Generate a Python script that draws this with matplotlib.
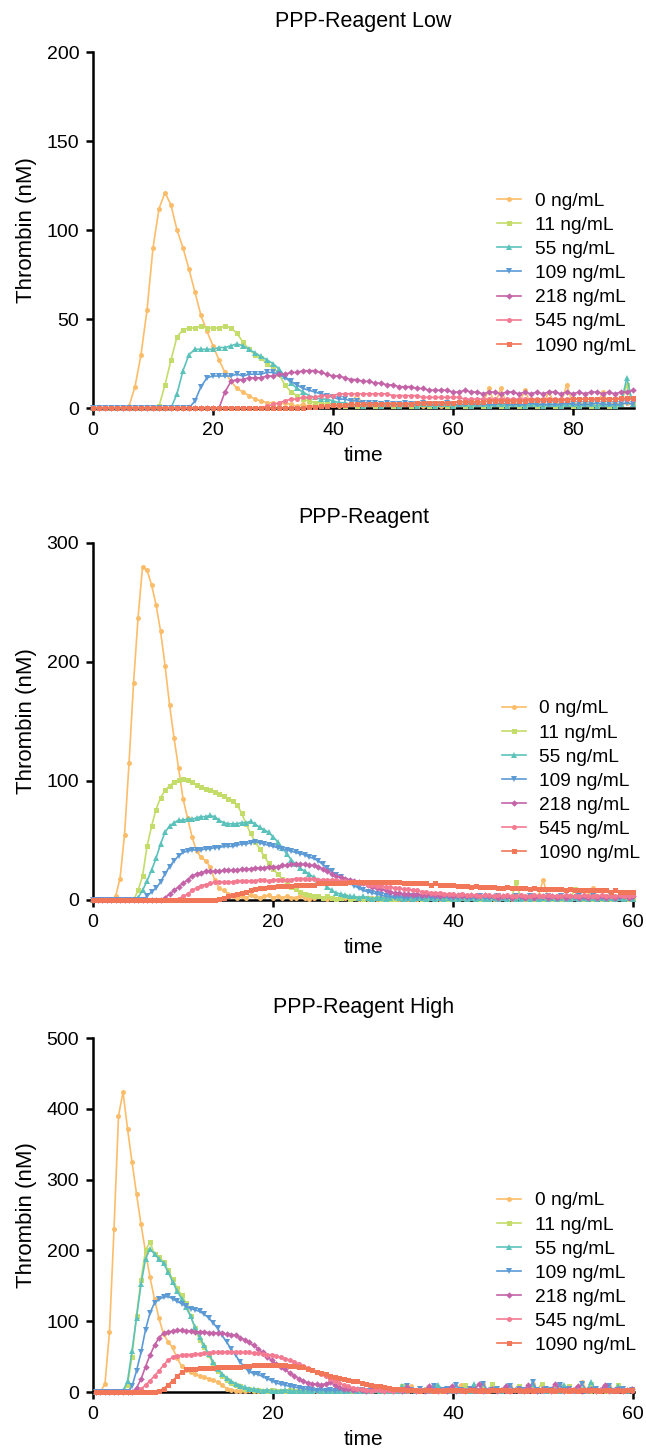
import numpy as np
import matplotlib.pyplot as plt

plt.rcParams['font.family'] = ['Liberation Sans', 'DejaVu Sans']

# Legend labels, colours and markers shared by all panels
labels = ['0 ng/mL', '11 ng/mL', '55 ng/mL', '109 ng/mL', '218 ng/mL', '545 ng/mL', '1090 ng/mL']
colors = ['#FBBD6A', '#C3DC6A', '#5BC2BB', '#5C9AD6', '#C463A8', '#F47A92', '#F27658']
markers = ['o', 's', '^', 'v', 'D', 'o', 's']
msizes = [3.6, 3.6, 4.0, 4.0, 3.3, 3.6, 3.6]

# ---- PPP-Reagent Low: one value per minute, t = 0..90
low_0 = [0]*6 + [1, 12, 30, 55, 90, 112, 121, 114, 100, 90, 78, 65, 52, 43, 35, 27, 20, 15, 11, 9, 7, 5, 4, 3, 3] + \
    [2, 3, 2, 1, 2, 1, 2, 1, 1, 2, 1, 1, 2, 8, 1, 2, 1, 1, 2, 1, 1, 2, 1, 2, 1, 1, 2, 1, 2, 1,
     2, 1, 2, 3, 2, 11, 2, 11, 2, 3, 2, 10, 2, 3, 2, 9, 2, 3, 13, 2, 3, 2, 3, 2, 9, 2, 3, 2, 3, 2]
low_11 = [0]*11 + [1, 13, 27, 40, 44, 45, 45, 46, 45, 45, 45, 46, 45, 42, 37, 33, 30, 28, 25, 23, 19, 13, 9, 7, 5, 4, 3, 3, 2, 2] + \
    [2, 1, 2, 1, 1, 2, 1, 1, 2, 1, 1, 2, 1, 1, 2, 1, 1, 2, 1, 1, 2, 1, 1, 2, 1,
     1, 2, 1, 1, 2, 1, 1, 2, 1, 1, 2, 1, 1, 2, 1, 1, 2, 1, 1, 2, 1, 1, 2, 13, 2]
low_55 = [0]*14 + [8, 21, 30, 33, 33, 33, 33, 34, 34, 35, 36, 35, 33, 31, 29, 27, 25, 22, 18, 14, 11, 9, 7, 6, 5, 5, 4, 3, 3] + \
    [2, 2, 1, 2, 2, 1, 2, 2, 1, 2, 2, 1, 2, 2, 1, 2, 2, 1, 2, 2, 1, 2, 2, 1,
     2, 2, 1, 2, 2, 1, 2, 2, 1, 2, 2, 1, 2, 2, 1, 2, 2, 1, 2, 2, 1, 2, 17, 2]
low_109 = [0]*17 + [4, 12, 17, 18, 18, 18, 18, 19, 18, 19, 19, 19, 20, 20, 19, 17, 15, 13, 11, 10, 9, 8, 7, 6, 5, 5, 4, 4, 3] + \
    [3, 3, 2, 3, 2, 2, 3, 2, 2, 3, 2, 2, 2, 3, 2, 2, 2, 3, 2, 2, 2, 2, 3,
     2, 2, 2, 2, 3, 2, 2, 2, 2, 2, 3, 2, 2, 2, 2, 3, 2, 2, 2, 2, 3, 2]
low_218 = [0]*22 + [9, 15, 16, 16, 17, 17, 17, 18, 18, 19, 19, 20, 20, 21, 21, 21, 20, 19, 18, 18,
                    17, 16, 16, 15, 15, 14, 14, 13, 13, 12, 12, 12, 11, 11, 10, 10, 10, 10, 9] + \
    [9, 10, 9, 9, 8, 9, 9, 8, 9, 9, 8, 9, 8, 9, 8, 9, 9, 8, 9, 8, 9, 8, 9, 9, 8, 9, 8, 9, 9, 10]
low_545 = [0]*29 + [1, 2, 3, 4, 5, 5, 6, 6, 6, 7, 7, 7, 8, 8, 8, 8, 8, 8, 8, 8, 8, 7] + \
    [7, 7, 7, 7, 6, 6, 6, 6, 6, 6, 6, 5, 5, 5, 5, 5, 5, 5, 5, 5] + [5]*20
low_1090 = [0]*36 + [0.5, 0.5, 1, 1, 1.5, 1.5, 1.5, 2, 2, 2, 2, 2, 2.5, 2.5, 2.5, 2.5, 2.5, 2.5, 3, 3,
                     3, 3, 3, 3, 3, 3.5, 3.5, 3.5, 3.5, 3.5, 4, 4, 4, 4, 4, 4, 4, 4.5, 4.5, 4.5,
                     4.5, 4.5, 4.5, 4.5, 5, 5, 5, 5, 5, 5, 5, 5, 5.5, 5.5, 5.5]

# ---- PPP-Reagent: one value per half minute, t = 0..60
mid_0 = [0]*5 + [3, 18, 55, 115, 182, 237, 280, 277, 265, 248, 226, 197, 164, 136, 111, 85, 69, 53, 41, 36,
                 33, 28, 17, 10, 8, 5, 3, 2] + \
    [3, 2, 4, 3, 2, 3, 4, 2, 3, 2, 3, 2, 2, 3, 2, 1, 2, 3, 2, 1, 2, 1, 2, 2, 1, 2, 1, 2, 1, 2,
     1, 2, 1, 1, 2, 1, 2, 1, 2, 1, 2, 1, 2, 3, 1, 2, 1, 2, 1, 2, 1, 2, 3, 2, 1, 2, 1, 2, 3, 2,
     1, 2, 3, 2, 3, 2, 4, 17, 3, 2, 3, 2, 1, 2, 3, 2, 2, 4, 10, 3, 2, 3, 2, 1, 2, 3, 2, 3]
mid_11 = [0]*10 + [8, 20, 45, 62, 76, 86, 92, 96, 99, 101, 102, 101, 99, 97, 95, 93, 92, 91, 89, 87,
                   85, 83, 80, 73, 64, 56, 49, 43, 37, 31, 26, 22, 18, 14, 11, 9, 7, 5, 4, 3, 3] + \
    [2, 3, 2, 1, 2, 3, 1, 2, 2, 1, 2, 1, 2, 1, 2, 1, 1, 2, 1, 2, 1, 2, 1, 1, 2, 1, 2, 1, 1, 2,
     1, 2, 1, 2, 1, 1, 2, 1, 2, 1, 2, 1, 2, 15, 2, 1, 2, 1, 2, 1, 2, 1, 2, 1, 2, 1, 9, 2, 1, 2,
     1, 2, 1, 2, 1, 2, 3, 2, 1, 2]
mid_55 = [0]*10 + [2, 8, 16, 25, 35, 47, 57, 62, 65, 67, 67, 68, 68, 69, 70, 70, 71, 70, 67, 65,
                   64, 64, 64, 65, 65, 66, 64, 61, 59, 57, 53, 49, 44, 39, 34, 30, 27, 24, 22, 19,
                   17, 14, 11, 8, 6, 5, 4, 3, 3] + \
    [2, 3, 2, 1, 2, 2, 1, 2, 3, 2, 1, 2, 1, 2, 2, 1, 2, 1, 2, 1, 2, 1, 1, 2, 1, 2, 1, 2, 1, 1,
     2, 1, 2, 1, 2, 1, 1, 2, 1, 2, 1, 2, 1, 2, 1, 2, 1, 1, 2, 1, 2, 1, 2, 1, 2, 1, 2, 1, 2, 1, 2, 1]
mid_109 = [0]*12 + [3, 7, 10, 15, 22, 28, 33, 37, 40, 41, 42, 42, 42, 43, 43, 44, 44, 45, 45, 45,
                    46, 47, 47, 48, 49, 48, 47, 46, 45, 44, 43, 42, 41, 40, 39, 38, 36, 35, 33, 30,
                    27, 24, 21, 19, 16, 14, 12, 10, 8, 7, 6, 5, 4, 3] + \
    [3, 2, 3, 2, 2, 3, 2, 2, 3, 2, 2, 2, 3, 2, 2, 2, 3, 2, 2, 2, 3, 2, 2, 2, 3, 2, 2, 2, 3, 2,
     2, 3, 2, 2, 2, 3, 2, 2, 3, 2, 2, 2, 3, 2, 2, 3, 2, 2, 2, 3, 2, 2, 3, 2, 2]
mid_218 = [0]*16 + [2, 5, 8, 11, 14, 17, 20, 22, 23, 24, 24, 24, 24, 25, 25, 25, 25, 26, 26, 26,
                    27, 27, 27, 28, 28, 28, 29, 29, 30, 30, 30, 30, 29, 29, 28, 26, 24, 22, 20, 19,
                    18, 17, 16, 15, 14, 13, 11, 10, 9, 8, 7, 6, 6, 5, 5] + \
    [4, 5, 4, 4, 5, 4, 3, 4, 4, 3, 4, 3, 3, 4, 3, 3, 4, 3, 3, 2, 3, 3, 2, 3, 3, 2, 3, 2, 3, 3,
     2, 3, 2, 3, 2, 3, 3, 2, 3, 2, 3, 2, 3, 2, 3, 2, 3, 3, 2, 3]
mid_545 = [0]*19 + [1, 3, 5, 8, 10, 12, 13, 14, 15, 15, 15, 15, 15, 16, 16, 16, 16, 16, 17, 17,
                    16, 17, 17, 17, 17, 17, 18, 18, 18, 18, 18, 17, 17, 17, 17, 17, 16, 16, 15, 15,
                    14, 14, 13, 13, 12, 12, 11, 11, 10, 10, 9, 9, 8, 8, 7, 7, 6, 6, 6, 5, 5, 5] + \
    [4, 5, 4, 4, 4, 3, 4, 4, 3, 4, 3, 4, 3, 3, 4, 3, 3, 4, 3, 3,
     4, 3, 3, 3, 4, 3, 3, 3, 4, 3, 3, 3, 4, 3, 3, 3, 4, 3, 3, 4]
mid_1090 = [0]*28 + [1, 2, 3, 4, 5, 6, 7, 8, 9, 10, 10, 11, 11, 12, 12, 12, 12, 13, 13, 13,
                     13, 13, 14, 14, 14, 14, 14, 14, 14, 15, 15, 15, 15, 15, 15, 15, 15, 15, 15, 15,
                     15, 14, 14] + \
    [14, 14, 14, 14, 13, 14, 13, 13, 13, 13, 12, 12, 12, 11, 12, 11, 11, 11, 11, 10,
     10, 11, 10, 10, 10, 10, 9, 10, 9, 9, 9, 9, 9, 9, 8, 9, 8, 8, 8, 8, 8, 8, 8, 8, 7, 8, 7, 7, 7, 7]

# ---- PPP-Reagent High: one value per half minute, t = 0.33..59.83
high_0 = [0]*2 + [12, 85, 230, 390, 424, 372, 325, 280, 237, 198, 162, 131, 104, 82, 71, 63, 48, 37, 31, 28,
                  25, 23, 21, 19, 17, 14, 10, 5, 3, 2, 2] + \
    [2, 3, 1, 2, 1, 2, 3, 1, 2, 1, 2, 1, 2, 1, 1, 2, 1, 2, 1, 2, 1, 2, 1, 2, 1, 3, 2, 1, 2, 3,
     2, 3, 1, 2, 4, 2, 3, 8, 2, 3, 4, 2, 9, 3, 2, 4, 3, 2, 10, 3, 2, 4, 3, 11, 2, 3, 4, 2, 3, 9,
     3, 2, 4, 3, 12, 3, 2, 4, 3, 2, 10, 3, 4, 2, 3, 14, 3, 2, 4, 3, 2, 9, 3, 4, 2, 3, 5]
high_11 = [0]*6 + [1, 10, 50, 108, 158, 200, 212, 195, 191, 184, 172, 160, 147, 137, 126, 108, 90, 74, 63, 53,
                   40, 30, 23, 17, 13, 10, 8, 5, 4, 3] + \
    [3, 2, 2, 3, 2, 1, 2, 3, 2, 1, 2, 1, 2, 3, 1, 2, 1, 2, 1, 2, 2, 1, 3, 2, 1, 2, 3, 2, 1, 2,
     3, 2, 8, 2, 3, 2, 1, 3, 2, 9, 2, 3, 2, 4, 2, 3, 10, 2, 3, 2, 4, 2, 11, 3, 2, 4, 2, 3, 9, 2,
     3, 4, 2, 12, 3, 2, 4, 3, 2, 9, 3, 2, 4, 3, 11, 2, 3, 4, 2, 3, 10, 2, 3, 4]
high_55 = [0]*6 + [2, 15, 58, 105, 152, 188, 202, 195, 188, 182, 170, 156, 143, 132, 120, 107, 92, 78, 66, 54,
                   43, 33, 26, 20, 15, 12, 9, 7, 5, 4, 3] + \
    [2, 3, 2, 1, 2, 3, 2, 1, 2, 2, 1, 2, 3, 1, 2, 1, 2, 2, 1, 2, 3, 2, 1, 2, 2, 3, 1, 2, 2, 1,
     2, 8, 2, 3, 2, 1, 3, 2, 2, 10, 3, 2, 2, 4, 2, 3, 2, 11, 2, 3, 2, 4, 3, 2, 9, 2, 3, 4, 2, 3,
     12, 2, 3, 2, 4, 3, 2, 10, 3, 2, 4, 3, 2, 14, 3, 2, 4, 3, 2, 9, 3, 2, 4]
high_109 = [0]*8 + [8, 30, 56, 88, 112, 126, 131, 134, 135, 132, 128, 125, 121, 118, 116, 114, 110, 105, 98, 90,
                    80, 71, 61, 52, 43, 35, 29, 26, 25, 22, 19, 16, 13, 11, 10, 8, 7, 6, 5, 4] + \
    [3, 2, 4, 2, 3, 2, 3, 2, 3, 2, 2, 3, 2, 3, 2, 7, 2, 3, 2, 3, 2, 9, 3, 2, 4, 2, 3, 8, 2, 3,
     4, 2, 10, 3, 2, 4, 3, 2, 12, 2, 3, 4, 2, 3, 9, 2, 4, 3, 2, 14, 3, 2, 4, 3, 2, 10, 3, 4, 2, 3,
     11, 2, 3, 4, 2, 3, 9, 2, 3, 4, 2, 3]
high_218 = [0]*9 + [6, 18, 36, 52, 66, 77, 83, 85, 86, 87, 87, 86, 86, 85, 85, 85, 84, 84, 83, 83,
                    82, 81, 80, 77, 74, 70, 66, 61, 56, 50, 45, 40, 36, 32, 27, 23, 19, 16, 13, 12,
                    11, 10, 12, 14, 10, 7, 5, 4] + \
    [3, 4, 3, 2, 3, 4, 3, 2, 3, 2, 3, 2, 7, 3, 2, 3, 2, 8, 3, 2, 3, 2, 9, 2, 3, 2, 4, 3, 11, 2,
     3, 4, 2, 3, 8, 2, 3, 4, 2, 10, 3, 2, 4, 3, 2, 12, 3, 2, 4, 3, 9, 2, 3, 4, 2, 3, 10, 2, 3, 4,
     2, 3, 4]
high_545 = [0]*10 + [4, 10, 16, 23, 30, 38, 45, 49, 51, 52, 53, 53, 54, 54, 55, 55, 56, 56, 56, 57,
                     57, 57, 56, 56, 56, 55, 55, 54, 53, 52, 51, 49, 47, 45, 43, 40, 37, 34, 31, 28,
                     25, 22, 19, 16, 13, 10, 8, 6, 5, 4] + \
    [3, 2, 3, 3, 2, 3, 2, 3, 3, 2] * 6
high_1090 = [0]*14 + [2, 5, 10, 16, 22, 28, 32, 33, 33, 34, 34, 34, 34, 35, 35, 35, 36, 36, 36, 37,
                      37, 38, 38, 38, 38, 38, 38, 38, 38, 37, 37, 36, 35, 33, 31, 29, 27, 25, 23, 21,
                      20, 18, 17, 16, 15, 13, 12, 10, 9, 8, 7, 6, 5, 4, 4, 3] + \
    [3, 3, 2, 3, 3, 2, 3, 2, 3, 3] * 5

panels = [
    ('PPP-Reagent Low', [low_0, low_11, low_55, low_109, low_218, low_545, low_1090],
     0.0, 1.0, 90.2, 200, [0, 50, 100, 150, 200], [0, 20, 40, 60, 80]),
    ('PPP-Reagent', [mid_0, mid_11, mid_55, mid_109, mid_218, mid_545, mid_1090],
     0.0, 0.5, 60.1, 300, [0, 100, 200, 300], [0, 20, 40, 60]),
    ('PPP-Reagent High', [high_0, high_11, high_55, high_109, high_218, high_545, high_1090],
     0.33, 0.5, 60.1, 500, [0, 100, 200, 300, 400, 500], [0, 20, 40, 60]),
]

# axes positions (left, bottom, width, height) in figure fractions
rects = [[0.144, 0.7184, 0.8375, 0.2457],
         [0.144, 0.3789, 0.8375, 0.2464],
         [0.144, 0.0393, 0.8375, 0.2443]]
legend_anchor = [(0.747, 0.378), (0.756, 0.333), (0.747, 0.336)]
title_pads = [18, 14, 18]

fig = plt.figure(figsize=(6.46, 14.49), dpi=100)

for i, (title, series, t0, step, xmax, ymax, yticks, xticks) in enumerate(panels):
    ax = fig.add_axes(rects[i])
    for y, lab, c, m, ms in zip(series, labels, colors, markers, msizes):
        y = np.asarray(y, dtype=float)
        t = t0 + step * np.arange(len(y))
        keep = t <= xmax
        ax.plot(t[keep], y[keep], color=c, marker=m, markersize=ms, markeredgewidth=0,
                linewidth=1.2, label=lab, clip_on=False, zorder=3)

    ax.set_xlim(0, xmax)
    ax.set_ylim(0, ymax)
    ax.set_xticks(xticks)
    ax.set_yticks(yticks)
    ax.spines['top'].set_visible(False)
    ax.spines['right'].set_visible(False)
    ax.spines['left'].set_linewidth(1.8)
    ax.spines['bottom'].set_linewidth(1.8)
    ax.tick_params(axis='both', which='major', labelsize=14, length=5, width=1.8, pad=5)

    ax.set_title(title, fontsize=15.5, pad=title_pads[i])
    ax.set_xlabel('time', fontsize=15, labelpad=5)
    ax.set_ylabel('Thrombin (nM)', fontsize=16, labelpad=7)

    ax.legend(loc='center left', bbox_to_anchor=legend_anchor[i], frameon=False, fontsize=13.8,
              handlelength=1.25, handletextpad=0.7, labelspacing=0.35, borderpad=0, borderaxespad=0)

fig.savefig('out.png', dpi=100)
